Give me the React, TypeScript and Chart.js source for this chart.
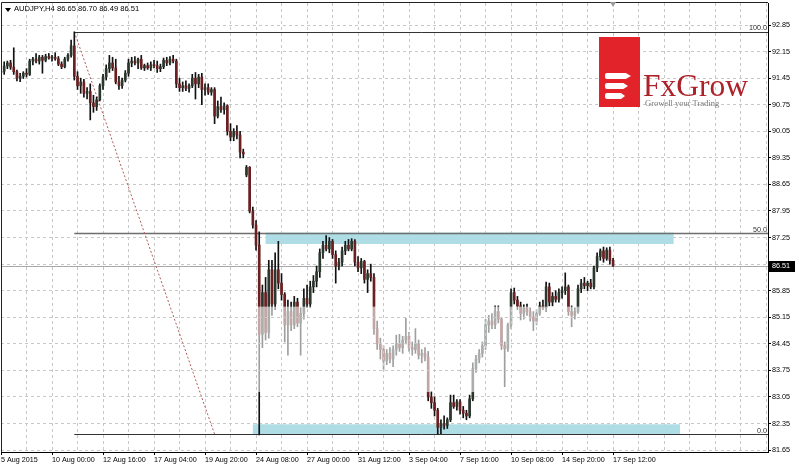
import React, { useEffect, useRef } from "react";
import { Chart, registerables } from "chart.js";

Chart.register(...registerables);

// ---------------- data ----------------
const symbolTitle = "AUDJPY,H4 86.65 86.70 86.49 86.51";

const xTickLabels = [
  "5 Aug 2015", "10 Aug 00:00", "12 Aug 16:00", "17 Aug 04:00", "19 Aug 20:00",
  "24 Aug 08:00", "27 Aug 00:00", "31 Aug 12:00", "3 Sep 04:00", "7 Sep 16:00",
  "10 Sep 08:00", "14 Sep 20:00", "17 Sep 12:00",
];

const yTickValues = [
  81.65, 82.35, 83.05, 83.75, 84.45, 85.15, 85.85, 86.55, 87.25,
  87.95, 88.65, 89.35, 90.05, 90.75, 91.45, 92.15, 92.85,
];

const opens = [
  91.60, 91.63, 91.77, 91.85, 91.74, 91.62, 91.45, 91.50, 91.58, 91.55,
  91.90, 91.95, 91.90, 92.00, 91.92, 92.02, 91.98, 92.00, 91.96, 91.82,
  91.75, 91.95, 92.05, 92.30, 91.50, 91.25, 91.35, 91.05, 91.10, 90.80,
  90.70, 90.88, 91.25, 91.48, 91.70, 91.85, 91.72, 91.35, 91.25, 91.40,
  91.58, 91.85, 91.90, 91.85, 91.95, 91.72, 91.78, 91.72, 91.80, 91.78,
  91.70, 91.75, 91.92, 91.85, 91.95, 91.90, 91.30, 91.20, 91.25, 91.18,
  91.25, 91.45, 91.30, 91.48, 91.15, 91.20, 91.08, 91.15, 90.45, 90.70,
  90.62, 90.72, 90.05, 89.90, 90.05, 89.95, 89.50, 88.90, 89.10, 87.95,
  87.58, 87.05, 84.70, 85.80, 84.75, 86.40, 85.50, 86.40, 86.05, 85.75,
  84.95, 85.30, 84.95, 85.55, 85.00, 85.25, 85.65, 85.50, 85.95, 86.10,
  86.35, 86.85, 87.05, 86.95, 87.15, 86.80, 86.50, 86.60, 86.90, 87.05,
  86.95, 87.15, 86.60, 86.45, 86.62, 86.15, 86.30, 86.20, 84.85, 84.45,
  84.30, 84.00, 84.20, 84.05, 84.30, 84.45, 84.35, 84.55, 84.65, 84.35,
  84.30, 84.45, 84.15, 84.20, 84.10, 83.05, 82.90, 82.70, 82.25, 82.35,
  82.30, 82.45, 82.90, 82.80, 82.92, 82.70, 82.62, 82.55, 83.00, 83.80,
  84.05, 84.20, 84.40, 84.95, 85.05, 84.95, 85.30, 85.10, 84.40, 84.32,
  84.95, 85.80, 85.60, 85.45, 85.25, 85.40, 85.30, 85.15, 85.05, 85.25,
  85.45, 85.40, 85.95, 85.55, 85.70, 85.62, 85.80, 85.85, 85.95, 85.30,
  85.20, 85.30, 85.90, 86.05, 85.98, 86.05, 85.95, 86.45, 86.75, 86.90,
  86.70, 86.92, 86.65,
];

const highs = [
  91.75, 91.88, 91.90, 91.92, 92.25, 91.66, 91.58, 91.62, 91.70, 91.95,
  92.00, 92.10, 92.05, 92.05, 92.08, 92.10, 92.05, 92.12, 92.02, 91.88,
  92.00, 92.10, 92.45, 92.67, 91.62, 91.45, 91.42, 91.20, 91.30, 91.00,
  90.95, 91.30, 91.55, 91.80, 92.05, 92.00, 91.95, 91.50, 91.45, 91.65,
  91.95, 92.00, 92.02, 91.98, 92.05, 91.82, 91.85, 91.88, 91.92, 91.90,
  91.82, 91.98, 92.00, 92.02, 92.05, 91.95, 91.45, 91.35, 91.38, 91.30,
  91.55, 91.60, 91.55, 91.58, 91.30, 91.30, 91.20, 91.20, 90.85, 90.95,
  90.80, 90.75, 90.25, 90.12, 90.20, 90.05, 89.58, 89.15, 89.12, 88.05,
  87.70, 87.40, 86.00, 86.20, 86.65, 86.65, 86.85, 87.15, 86.30, 85.80,
  85.60, 85.55, 85.70, 85.65, 85.40, 85.90, 86.00, 86.10, 86.25, 86.50,
  86.95, 87.15, 87.30, 87.25, 87.20, 86.90, 86.70, 87.00, 87.15, 87.20,
  87.22, 87.20, 86.75, 86.70, 86.65, 86.40, 86.55, 86.30, 85.05, 84.60,
  84.40, 84.30, 84.35, 84.40, 84.68, 84.70, 84.65, 85.12, 84.75, 84.50,
  84.85, 84.55, 84.30, 84.35, 84.25, 83.20, 83.05, 82.75, 82.45, 82.55,
  82.50, 83.10, 83.10, 82.98, 82.98, 82.80, 82.70, 83.10, 83.95, 84.15,
  84.30, 84.50, 85.10, 85.20, 85.25, 85.45, 85.45, 85.15, 84.50, 85.00,
  85.90, 85.92, 85.70, 85.55, 85.48, 85.50, 85.40, 85.30, 85.35, 85.55,
  85.60, 86.08, 86.05, 85.80, 85.85, 85.90, 85.95, 86.32, 86.00, 85.45,
  85.40, 86.00, 86.15, 86.20, 86.10, 86.15, 86.50, 86.85, 86.95, 87.00,
  86.98, 87.00, 86.70,
];

const lows = [
  91.50, 91.55, 91.70, 91.68, 91.55, 91.38, 91.36, 91.44, 91.48, 91.52,
  91.80, 91.85, 91.82, 91.58, 91.88, 91.95, 91.90, 91.92, 91.78, 91.70,
  91.72, 91.90, 92.00, 91.40, 91.15, 91.05, 90.95, 90.90, 90.35, 90.55,
  90.60, 90.85, 91.15, 91.40, 91.60, 91.65, 91.30, 91.15, 91.18, 91.35,
  91.50, 91.75, 91.80, 91.70, 91.68, 91.65, 91.68, 91.65, 91.72, 91.60,
  91.62, 91.70, 91.78, 91.80, 91.85, 91.20, 91.10, 91.10, 91.12, 91.08,
  91.20, 90.90, 91.20, 90.75, 91.00, 91.02, 91.00, 90.25, 90.40, 90.55,
  90.50, 89.95, 89.80, 89.80, 89.85, 89.35, 89.35, 88.85, 87.90, 87.50,
  86.92, 82.05, 84.35, 84.55, 84.60, 85.20, 85.35, 85.90, 85.60, 84.50,
  84.15, 84.80, 84.85, 84.90, 84.15, 85.10, 85.40, 85.40, 85.80, 85.95,
  86.20, 86.70, 86.90, 86.85, 86.70, 86.05, 86.40, 86.50, 86.80, 86.90,
  86.90, 86.50, 86.35, 86.30, 86.05, 85.80, 86.10, 84.70, 84.30, 84.05,
  83.75, 83.90, 83.95, 83.85, 84.15, 84.25, 84.20, 84.45, 84.25, 84.15,
  84.20, 84.05, 83.95, 84.00, 82.95, 82.75, 82.55, 82.07, 82.08, 82.20,
  82.22, 82.40, 82.75, 82.70, 82.60, 82.50, 82.45, 82.50, 82.95, 83.70,
  83.95, 84.10, 84.30, 84.75, 84.85, 84.85, 85.00, 84.30, 83.32, 84.25,
  84.85, 85.50, 85.35, 85.08, 85.10, 85.20, 85.05, 84.80, 84.95, 85.20,
  85.35, 85.30, 85.45, 85.45, 85.55, 85.55, 85.65, 85.75, 85.20, 84.90,
  85.10, 85.25, 85.80, 85.90, 85.85, 85.90, 85.90, 86.35, 86.65, 86.60,
  86.65, 86.55, 86.49,
];

const closes = [
  91.63, 91.77, 91.85, 91.74, 91.62, 91.45, 91.50, 91.58, 91.55, 91.90,
  91.95, 91.90, 92.00, 91.92, 92.02, 91.98, 92.00, 91.96, 91.82, 91.75,
  91.95, 92.05, 92.30, 91.50, 91.25, 91.35, 91.05, 91.10, 90.80, 90.70,
  90.88, 91.25, 91.48, 91.70, 91.85, 91.72, 91.35, 91.25, 91.40, 91.58,
  91.85, 91.90, 91.85, 91.95, 91.72, 91.78, 91.72, 91.80, 91.78, 91.70,
  91.75, 91.92, 91.85, 91.95, 91.90, 91.30, 91.20, 91.25, 91.18, 91.25,
  91.45, 91.30, 91.48, 91.15, 91.20, 91.08, 91.15, 90.45, 90.70, 90.62,
  90.72, 90.05, 89.90, 90.05, 89.95, 89.50, 89.45, 89.10, 87.95, 87.58,
  87.05, 84.70, 85.80, 84.75, 86.40, 85.50, 86.40, 86.05, 85.75, 84.95,
  85.30, 84.95, 85.55, 85.00, 85.25, 85.65, 85.50, 85.95, 86.10, 86.35,
  86.85, 87.05, 86.95, 87.15, 86.80, 86.50, 86.60, 86.90, 87.05, 86.95,
  87.15, 86.60, 86.45, 86.62, 86.15, 86.30, 86.20, 84.85, 84.45, 84.30,
  84.00, 84.20, 84.05, 84.30, 84.45, 84.35, 84.55, 84.65, 84.35, 84.30,
  84.45, 84.15, 84.20, 84.10, 83.05, 82.90, 82.70, 82.25, 82.35, 82.30,
  82.45, 82.90, 82.80, 82.92, 82.70, 82.62, 82.55, 83.00, 83.80, 84.05,
  84.20, 84.40, 84.95, 85.05, 84.95, 85.30, 85.10, 84.40, 84.32, 84.95,
  85.80, 85.60, 85.45, 85.25, 85.40, 85.30, 85.15, 85.05, 85.25, 85.45,
  85.40, 85.95, 85.55, 85.70, 85.62, 85.80, 85.85, 85.95, 85.30, 85.20,
  85.30, 85.90, 86.05, 85.98, 86.05, 85.95, 86.45, 86.75, 86.90, 86.70,
  86.92, 86.65, 86.51,
];

const fibLabels = ["100.0", "50.0", "0.0"];
const fibPrices = [92.67, 87.37, 82.07];
const fibStartBar = 23;
const fibDiagonalEndBar = 67;

const zoneUpperPrices = [87.08, 87.38];
const zoneUpperBars = [83, 211];
const zoneLowerPrices = [82.07, 82.33];
const zoneLowerBars = [79, 213];

const fadePrices = [83.18, 85.43];
const fadeBars = [79.5, 192.5];

const lastPrice = 86.51;
const shiftMarkerBar = 192;

// ---------------- styles ----------------
const FONT = "Tahoma, 'Liberation Sans', Arial, sans-serif";
const BULL = "#2b382e";
const BEAR = "#6c1f20";
const GRID = "#c8c8c8";
const ZONE = "#aedde5";

const alignPx = (p: number) => Math.round(p - 0.5) + 0.5;

const annotationPlugin = {
  id: "mt4Annotations",
  beforeDatasetsDraw(chart: any) {
    const { ctx, chartArea: a, scales } = chart;
    const x = scales.x, y = scales.y;
    ctx.save();
    ctx.beginPath();
    ctx.rect(a.left, a.top, a.right - a.left, a.bottom - a.top);
    ctx.clip();
    // zones
    ctx.fillStyle = ZONE;
    const zones = [
      [zoneUpperBars, zoneUpperPrices],
      [zoneLowerBars, zoneLowerPrices],
    ];
    for (const [bars, prices] of zones) {
      const x0 = x.getPixelForValue(bars[0]);
      const x1 = x.getPixelForValue(bars[1]);
      const y0 = y.getPixelForValue(prices[1]);
      const y1 = y.getPixelForValue(prices[0]);
      ctx.fillRect(x0, y0, x1 - x0, y1 - y0);
    }
    // current price line
    const py = Math.round(y.getPixelForValue(lastPrice)) + 0.5;
    ctx.strokeStyle = "#a8a8a8";
    ctx.lineWidth = 1;
    ctx.beginPath();
    ctx.moveTo(a.left, py);
    ctx.lineTo(a.right, py);
    ctx.stroke();
    // fib levels
    const fx = x.getPixelForValue(fibStartBar);
    fibPrices.forEach((p, i) => {
      const ly = Math.round(y.getPixelForValue(p)) + 0.5;
      ctx.strokeStyle = i === 1 ? "#6e6e6e" : "#333333";
      ctx.lineWidth = i === 1 ? 1.5 : 1;
      ctx.beginPath();
      ctx.moveTo(fx, ly);
      ctx.lineTo(a.right, ly);
      ctx.stroke();
    });
    // diagonal trend line of the fibo
    ctx.strokeStyle = "#b25a5a";
    ctx.lineWidth = 1;
    ctx.setLineDash([2, 2]);
    ctx.beginPath();
    ctx.moveTo(fx, y.getPixelForValue(fibPrices[0]));
    ctx.lineTo(x.getPixelForValue(fibDiagonalEndBar), y.getPixelForValue(fibPrices[2]));
    ctx.stroke();
    ctx.restore();
  },
  afterDatasetsDraw(chart: any) {
    const { ctx, chartArea: a, scales } = chart;
    const x = scales.x, y = scales.y;
    ctx.save();
    // faded band over the candles
    const x0 = x.getPixelForValue(fadeBars[0]);
    const x1 = x.getPixelForValue(fadeBars[1]);
    const y0 = y.getPixelForValue(fadePrices[1]);
    const y1 = y.getPixelForValue(fadePrices[0]);
    ctx.fillStyle = "rgba(255,255,255,0.6)";
    ctx.fillRect(x0, y0, x1 - x0, y1 - y0);
    // keep grid visible inside the band
    ctx.save();
    ctx.beginPath();
    ctx.rect(x0, y0, x1 - x0, y1 - y0);
    ctx.clip();
    ctx.strokeStyle = GRID;
    ctx.lineWidth = 1;
    ctx.setLineDash([3, 3]);
    for (const t of y.ticks) {
      const gy = alignPx(y.getPixelForValue(t.value));
      ctx.beginPath();
      ctx.moveTo(a.left, gy);
      ctx.lineTo(a.right, gy);
      ctx.stroke();
    }
    for (const t of x.ticks) {
      const gx = alignPx(x.getPixelForValue(t.value));
      ctx.beginPath();
      ctx.moveTo(gx, a.top);
      ctx.lineTo(gx, a.bottom);
      ctx.stroke();
    }
    ctx.restore();
    // fib labels
    ctx.fillStyle = "#333";
    ctx.font = `7.2px ${FONT}`;
    ctx.textAlign = "right";
    ctx.textBaseline = "alphabetic";
    fibPrices.forEach((p, i) => {
      const ly = y.getPixelForValue(p);
      ctx.fillText(fibLabels[i], a.right - 1, ly - 1.5);
    });
    ctx.restore();
  },
  afterDraw(chart: any) {
    const { ctx, chartArea: a, scales } = chart;
    const x = scales.x, y = scales.y;
    ctx.save();
    // frame left/top
    ctx.strokeStyle = "#222";
    ctx.lineWidth = 1;
    ctx.beginPath();
    ctx.moveTo(1.5, a.bottom);
    ctx.lineTo(1.5, a.top - 0.5);
    ctx.lineTo(a.right, a.top - 0.5);
    ctx.stroke();
    // shift marker
    const mx = x.getPixelForValue(shiftMarkerBar);
    ctx.fillStyle = "#9a9a9a";
    ctx.beginPath();
    ctx.moveTo(mx - 3, a.top - 1);
    ctx.lineTo(mx + 3, a.top - 1);
    ctx.lineTo(mx, a.top + 4);
    ctx.closePath();
    ctx.fill();
    // price label
    const py = y.getPixelForValue(lastPrice);
    ctx.fillStyle = "#000";
    ctx.fillRect(a.right + 1, Math.round(py) - 5, 26, 11);
    ctx.fillStyle = "#fff";
    ctx.font = `7.2px ${FONT}`;
    ctx.textAlign = "left";
    ctx.textBaseline = "middle";
    ctx.fillText(lastPrice.toFixed(2), a.right + 4, Math.round(py) + 0.5);
    ctx.restore();
  },
};

export default function App() {
  const canvasRef = useRef<HTMLCanvasElement | null>(null);

  useEffect(() => {
    document.body.style.margin = "0";
    const canvas = canvasRef.current;
    if (!canvas) return;

    const bodyColors = closes.map((c, i) => (c >= opens[i] ? BULL : BEAR));
    const gridBars: number[] = [];
    for (let v = 0; v <= 240; v += 8) gridBars.push(v);

    const chart = new Chart(canvas, {
      type: "bar",
      data: {
        datasets: [
          {
            label: "Range",
            data: highs.map((h, i) => ({ x: i, y: [lows[i], h] })) as any,
            backgroundColor: "#111111",
            barThickness: 1,
            grouped: false,
            borderWidth: 0,
            order: 2,
          } as any,
          {
            label: "Body",
            data: opens.map((o, i) => ({ x: i, y: [o, closes[i]] })) as any,
            backgroundColor: bodyColors,
            barThickness: 2,
            grouped: false,
            minBarLength: 1,
            borderWidth: 0,
            order: 1,
          } as any,
        ],
      },
      options: {
        animation: false,
        responsive: false,
        devicePixelRatio: 1,
        layout: { padding: { left: 1, top: 3, right: 0, bottom: 0 } },
        plugins: {
          legend: { display: false },
          tooltip: { enabled: false },
          title: { display: false },
        },
        scales: {
          x: {
            type: "linear",
            min: 0,
            max: 240.6,
            offset: false,
            afterBuildTicks: (s: any) => {
              s.ticks = gridBars.map((v) => ({ value: v }));
            },
            afterFit: (s: any) => {
              s.height = 15;
              s.paddingLeft = 0;
              s.paddingRight = 0;
            },
            grid: {
              offset: false,
              color: GRID,
              lineWidth: 1,
              tickLength: 3,
              tickColor: (c: any) => {
                const v = c.tick ? c.tick.value : -1;
                return v % 16 === 0 && v / 16 < xTickLabels.length ? "#000" : "rgba(0,0,0,0)";
              },
            },
            border: { display: true, color: "#000", width: 1, dash: [3, 3] },
            ticks: {
              autoSkip: false,
              maxRotation: 0,
              minRotation: 0,
              align: "start",
              padding: 1,
              color: "#000",
              font: { family: FONT, size: 7.2 },
              callback: (v: any) => {
                const n = Number(v);
                return n % 16 === 0 && n / 16 < xTickLabels.length ? xTickLabels[n / 16] : "";
              },
            },
          } as any,
          y: {
            position: "right",
            min: 81.6,
            max: 93.43,
            afterBuildTicks: (s: any) => {
              s.ticks = yTickValues.map((v) => ({ value: v }));
            },
            afterFit: (s: any) => {
              s.width = 32;
              s.paddingTop = 0;
              s.paddingBottom = 0;
            },
            grid: { color: GRID, lineWidth: 1, tickLength: 3, tickColor: "#000" },
            border: { display: true, color: "#000", width: 1, dash: [3, 3] },
            ticks: {
              padding: 1,
              color: "#000",
              font: { family: FONT, size: 7.2 },
              callback: (v: any) => {
                const n = Number(v);
                return Math.abs(n - lastPrice) < 0.1 ? "" : n.toFixed(2);
              },
            },
          } as any,
        },
      },
      plugins: [annotationPlugin],
    });

    return () => chart.destroy();
  }, []);

  return (
    <div
      style={{
        position: "relative",
        width: 800,
        height: 467,
        overflow: "hidden",
        background: "#fff",
      }}
    >
      <canvas ref={canvasRef} width={800} height={467} style={{ display: "block" }} />
      {/* title */}
      <div
        style={{
          position: "absolute",
          left: 5,
          top: 8,
          width: 0,
          height: 0,
          borderLeft: "3px solid transparent",
          borderRight: "3px solid transparent",
          borderTop: "4px solid #000",
        }}
      />
      <div
        style={{
          position: "absolute",
          left: 14,
          top: 5.4,
          font: `7.6px ${FONT}`,
          lineHeight: "1",
          color: "#000",
          whiteSpace: "pre",
        }}
      >
        {symbolTitle}
      </div>
      {/* logo */}
      <div
        style={{
          position: "absolute",
          left: 599,
          top: 37,
          width: 41,
          height: 70,
          background: "#e2232a",
        }}
      >
        {[
          [36, 26],
          [46, 23],
          [56, 20],
        ].map(([t, w], i) => (
          <div
            key={i}
            style={{
              position: "absolute",
              left: 6,
              top: t,
              width: w,
              height: 6,
              background: "#fff",
              borderRadius: "2px 0 0 2px",
              clipPath: "polygon(0 0, 80% 0, 100% 50%, 80% 100%, 0 100%)",
            }}
          />
        ))}
      </div>
      <div
        style={{
          position: "absolute",
          left: 643,
          top: 70,
          font: `31.5px 'Liberation Serif', 'Times New Roman', serif`,
          lineHeight: "1",
          color: "#ad2229",
          whiteSpace: "pre",
        }}
      >
        FxGrow
      </div>
      <div
        style={{
          position: "absolute",
          left: 645,
          top: 99,
          font: `8.5px 'Liberation Serif', 'Times New Roman', serif`,
          lineHeight: "1",
          color: "#777",
          whiteSpace: "pre",
        }}
      >
        Growell your Trading
      </div>
    </div>
  );
}
